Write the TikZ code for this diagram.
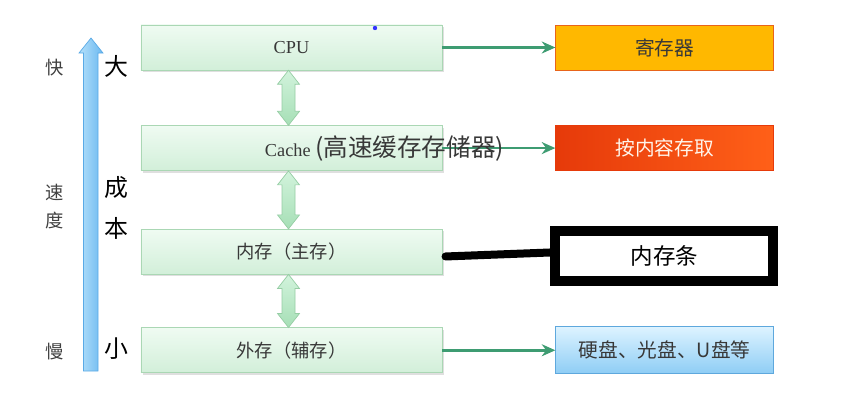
\documentclass[tikz,border=0pt]{standalone}
\usepackage{fontspec}
\setmainfont{Liberation Serif}
\newfontfamily\cjk{Noto Sans CJK SC}
\usetikzlibrary{arrows.meta,positioning,calc,shadows}
\definecolor{greentop}{HTML}{EFFBF2}
\definecolor{greenbot}{HTML}{D2EFD9}
\definecolor{greenline}{HTML}{AAD7B4}
\definecolor{linkgreen}{HTML}{3E9C72}
\definecolor{dbltop}{HTML}{D2F3DC}
\definecolor{dblbot}{HTML}{A6DFB6}
\definecolor{dblline}{HTML}{96CDA4}
\definecolor{regfill}{HTML}{FFB800}
\definecolor{regline}{HTML}{E8641A}
\definecolor{redleft}{HTML}{E63A0A}
\definecolor{redright}{HTML}{FF6018}
\definecolor{disktop}{HTML}{DDF3FF}
\definecolor{diskbot}{HTML}{8ECDF5}
\definecolor{diskline}{HTML}{5EA8DD}
\definecolor{speedleft}{HTML}{B4E0FA}
\definecolor{speedright}{HTML}{6BB8F0}
\definecolor{speedline}{HTML}{5AAAE6}
\definecolor{boxtext}{HTML}{383838}

\begin{document}
\begin{tikzpicture}[
    x=0.025cm, y=-0.025cm,
    node distance=1.375cm and 2.825cm,
    level/.style={
        draw=greenline,
        top color=greentop,
        bottom color=greenbot,
        minimum width=7.525cm,
        minimum height=1.125cm,
        text=boxtext,
        font=\fontsize{13}{15}\selectfont,
        drop shadow={shadow xshift=0.04cm, shadow yshift=-0.05cm, opacity=0.25}
    },
    sidebox/.style={
        minimum width=5.45cm,
        minimum height=1.125cm,
        font=\fontsize{14}{16}\selectfont\cjk,
        text=boxtext
    },
    link/.style={-{Stealth[length=3.4mm, width=3mm]}, line width=2pt, linkgreen},
    dblarrow/.style={draw=dblline, top color=dbltop, bottom color=dblbot, line width=0.5pt},
    sidelabel/.style={font=\fontsize{13}{15}\selectfont\cjk, text=black!75, inner sep=0pt},
    costlabel/.style={font=\fontsize{17}{19}\selectfont\cjk, inner sep=0pt},
    ]
    \useasboundingbox (0,0) rectangle (857,408);

    % levels
    \node[level] (cpu) at (291.5,47.5) {CPU};
    \node[level, below=of cpu] (cache) {};
    \node[level, below=1.45cm of cache] (mem) {\cjk 内存（主存）};
    \node[level, below=1.325cm of mem] (ext) {\cjk 外存（辅存）};

    % right side
    \node[sidebox, draw=regline, fill=regfill, right=of cpu] (reg) {寄存器};
    \node[sidebox, draw=redleft, left color=redleft, right color=redright,
          text=orange!8, right=of cache] (cam) {按内容存取};
    \node[sidebox, draw=black, line width=0.25cm, fill=white, text=black,
          minimum height=1.25cm, font=\fontsize{16}{18}\selectfont\cjk,
          right=of mem, xshift=-0.125cm, yshift=-0.1cm] (bar) {内存条};
    \node[sidebox, draw=diskline, top color=disktop, bottom color=diskbot,
          minimum height=1.175cm, right=of ext] (disk) {硬盘、光盘、U盘等};

    \path
        (cpu.east) edge[link] (reg.west)
        (cache.east) edge[link] (cam.west)
        (ext.east) edge[link] (disk.west);
    \draw[line width=0.2cm, line cap=round] ([xshift=0.08cm, yshift=-0.12cm]mem.east) -- ([yshift=0.08cm]bar.west);

    \node[anchor=west, inner sep=0pt, text=boxtext] (cachelbl) at ([xshift=3.1cm]cache.west)
        {\fontsize{13}{15}\selectfont Cache \fontsize{17.5}{19}\selectfont\cjk(高速缓存存储器)};

    % double arrows between levels
    \foreach \a/\b in {cpu/cache, cache/mem, mem/ext} {
        \coordinate (T) at ([xshift=-0.075cm]\a.south);
        \coordinate (B) at ([xshift=-0.075cm]\b.north);
        \draw[dblarrow] (T) -- ($(T)+(11,14)$) -- ($(T)+(6.5,14)$) -- ($(B)+(6.5,-14)$)
            -- ($(B)+(11,-14)$) -- (B) -- ($(B)+(-11,-14)$) -- ($(B)+(-6.5,-14)$)
            -- ($(T)+(-6.5,14)$) -- ($(T)+(-11,14)$) -- cycle;
    }

    % speed / cost scale
    \draw[draw=speedline, left color=speedleft, right color=speedright, line width=0.5pt]
        (83.5,371) -- (83.5,53) -- (79,53) -- (91,38) -- (103,53) -- (98,53) -- (98,371) -- cycle;
    \node[sidelabel] (fast) at (55,68) {快};
    \node[sidelabel] (su) at (55,192) {速};
    \node[sidelabel] (du) at (55,221) {度};
    \node[sidelabel] (slow) at (55,352) {慢};
    \node[costlabel] (big) at (116,66) {大};
    \node[costlabel] (cheng) at (116,188) {成};
    \node[costlabel] (ben) at (116,228) {本};
    \node[costlabel] (small) at (116,349) {小};

    \fill[blue!80] (375,28) circle[radius=0.055cm];
\end{tikzpicture}
\end{document}
